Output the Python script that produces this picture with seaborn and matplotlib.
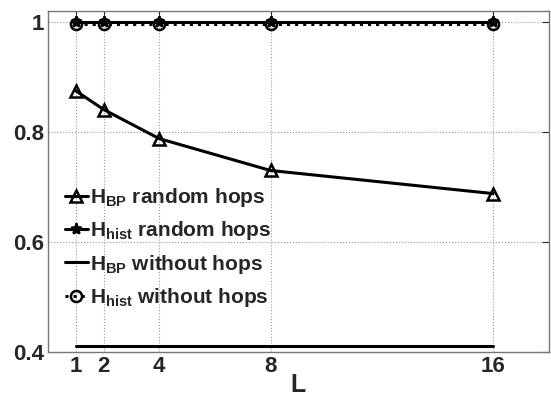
import matplotlib
matplotlib.use("Agg")
import matplotlib.pyplot as plt
import seaborn as sns
import pandas as pd

L_values = [1, 2, 4, 8, 16]
hbp_random = [0.875, 0.841, 0.788, 0.730, 0.688]
hhist_random = [1.0, 1.0, 1.0, 1.0, 1.0]
hbp_without = [0.411, 0.411, 0.411, 0.411, 0.411]
hhist_without = [0.997, 0.997, 0.997, 0.997, 0.997]
labels = [r"$\mathbf{H}_{\mathbf{BP}}$ random hops",
          r"$\mathbf{H}_{\mathbf{hist}}$ random hops",
          r"$\mathbf{H}_{\mathbf{BP}}$ without hops",
          r"$\mathbf{H}_{\mathbf{hist}}$ without hops"]
x_ticks = [1, 2, 4, 8, 16]
y_ticks = [0.4, 0.6, 0.8, 1.0]
y_ticklabels = ["0.4", "0.6", "0.8", "1"]
x_label = "L"

sns.set_style("white")
plt.rcParams['font.family'] = ['Liberation Sans', 'DejaVu Sans']
plt.rcParams['font.weight'] = 'bold'
plt.rcParams['mathtext.fontset'] = 'custom'
plt.rcParams['mathtext.bf'] = 'Liberation Sans:bold'
plt.rcParams['mathtext.rm'] = 'Liberation Sans:bold'

fig = plt.figure(figsize=(5.51, 3.98), dpi=100)
ax = fig.add_axes([0.087, 0.116, 0.909, 0.856])

series = [hbp_random, hhist_random, hbp_without, hhist_without]
markers = ['^', '*', None, 'o']
styles = ['-', '-', '-', ':']
for vals, lab, m, ls in zip(series, labels, markers, styles):
    df = pd.DataFrame({"L": L_values, "H": vals})
    kw = dict(marker=m, markersize=8, markerfacecolor='none',
              markeredgecolor='black', markeredgewidth=1.8) if m else {}
    sns.lineplot(data=df, x="L", y="H", ax=ax, color='black', linewidth=2.2,
                 linestyle=ls, label=lab, **kw)

ax.set_xlim(0, 18)
ax.set_ylim(0.4, 1.02)
ax.set_xticks(x_ticks)
ax.set_xticklabels([str(v) for v in x_ticks])
ax.set_yticks(y_ticks)
ax.set_yticklabels(y_ticklabels)
ax.grid(True, linestyle=':', color='#999999', linewidth=0.8)
ax.tick_params(direction='in', top=True, right=True, length=5, labelsize=16,
               width=0.8, pad=3)
for s in ax.spines.values():
    s.set_color('#777777')
    s.set_linewidth(1.0)
ax.set_xlabel(x_label, fontsize=18, fontweight='bold', labelpad=-3)
ax.set_ylabel("")
leg = ax.legend(loc='upper left', bbox_to_anchor=(0.005, 0.53), frameon=False,
                fontsize=15, handlelength=1.1, handletextpad=0.1,
                labelspacing=0.5, borderaxespad=0.3)
for t in leg.get_texts():
    t.set_fontweight('bold')
fig.savefig("out.png", dpi=100)
